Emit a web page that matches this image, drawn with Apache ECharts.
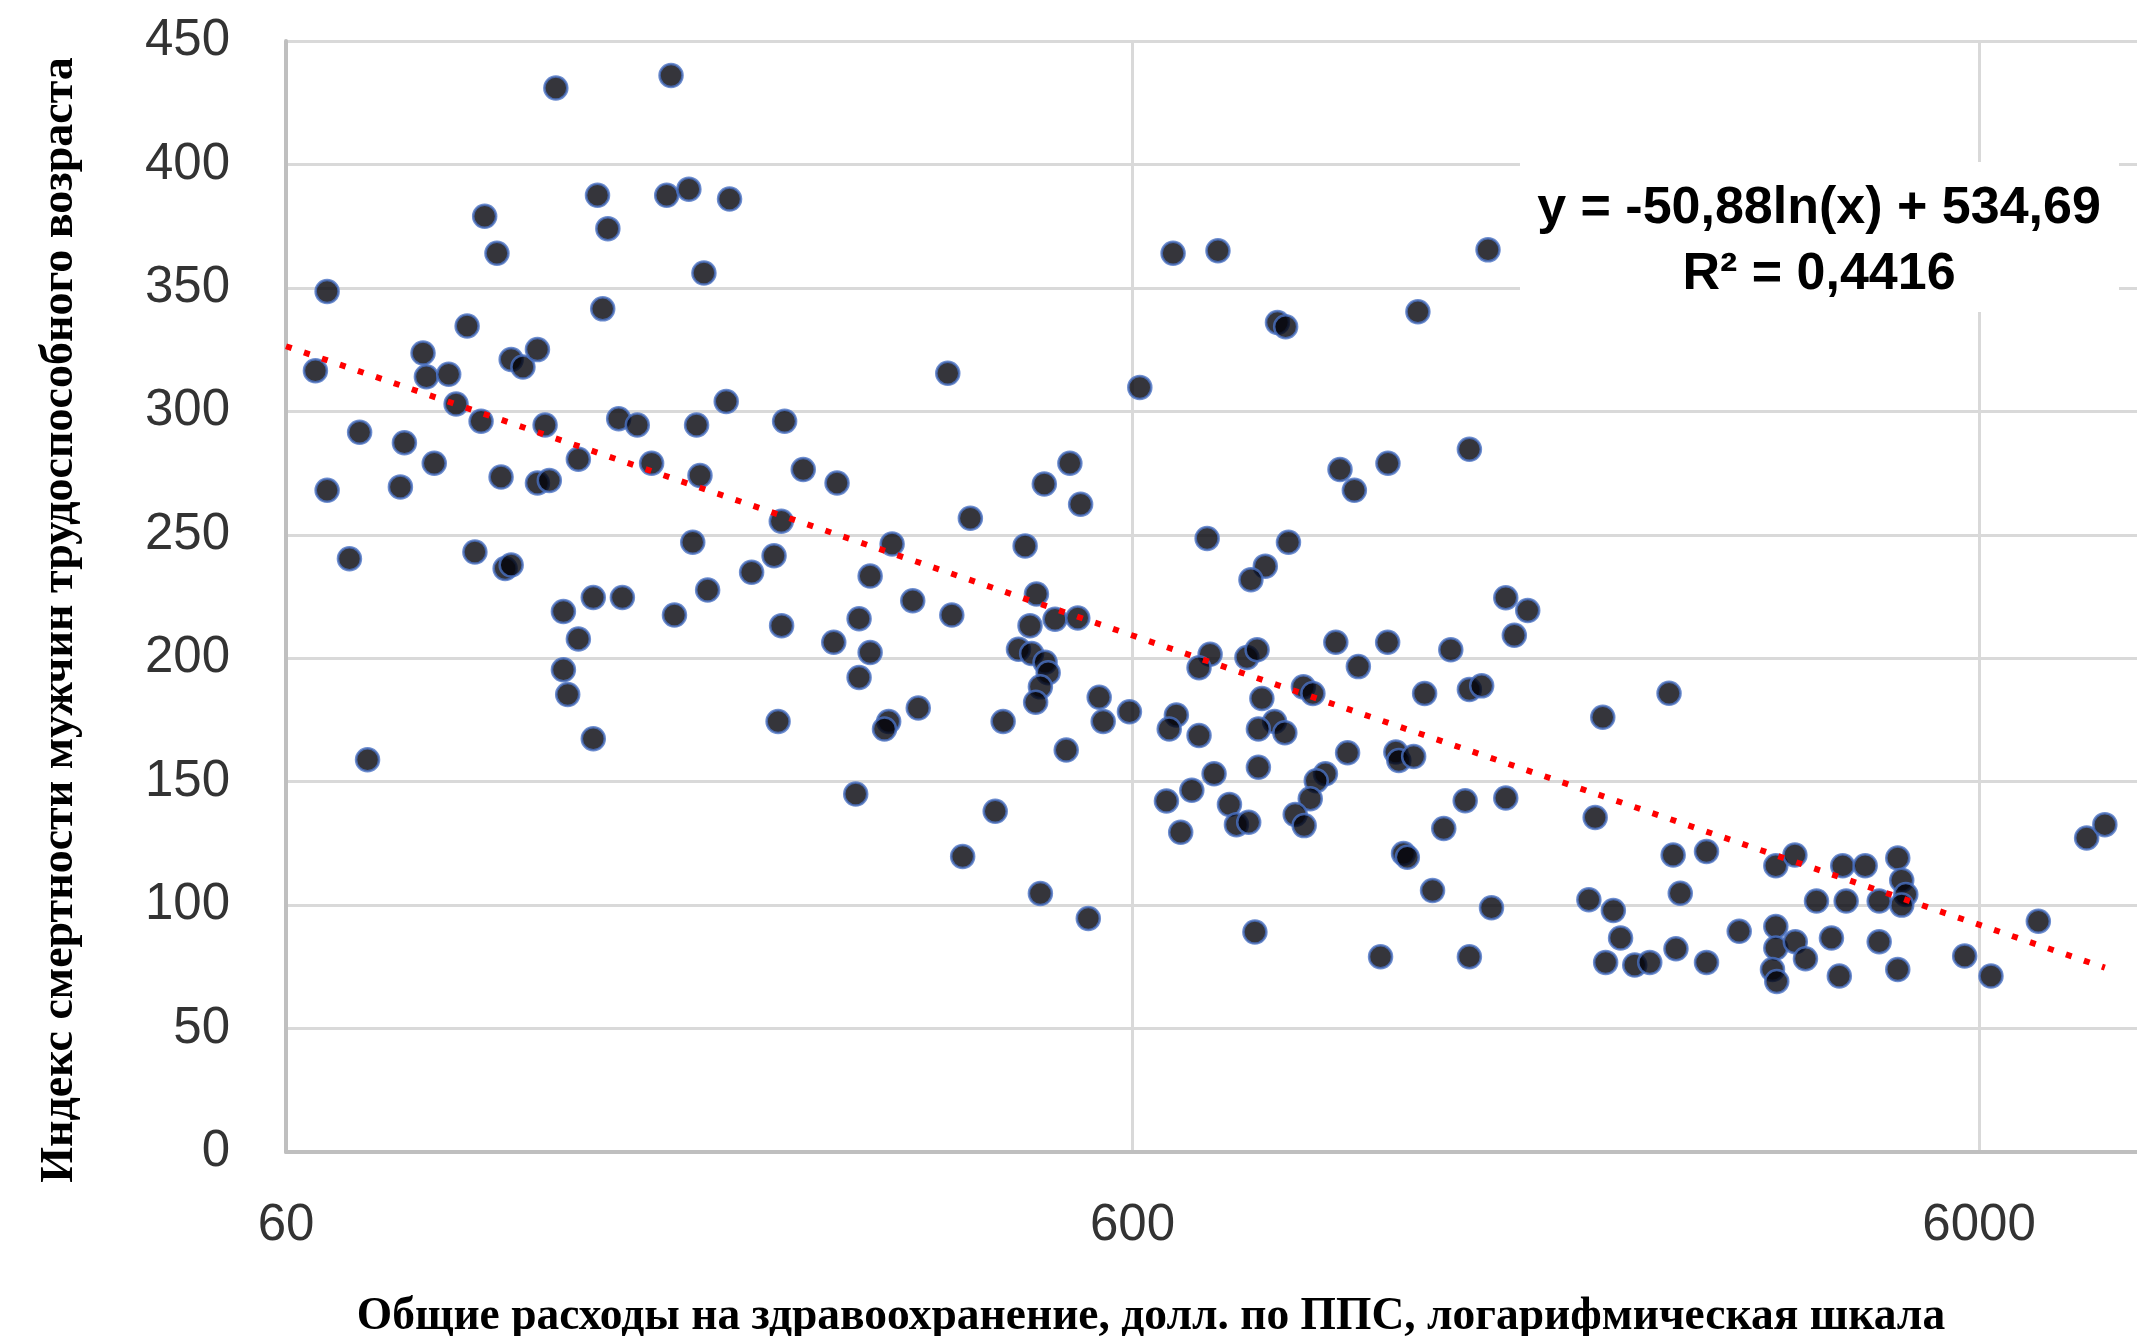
<!DOCTYPE html>
<html>
<head>
<meta charset="utf-8">
<title>Расходы на здравоохранение и смертность мужчин</title>
<script src="https://cdn.jsdelivr.net/npm/echarts@6/dist/echarts.min.js"></script>
<style>
  html, body { margin: 0; padding: 0; background: #fff; }
  #chartBox { width: 2137px; height: 1336px; }
</style>
</head>
<body>
<div id="chartBox"></div>
<script>
// расходы на здравоохранение, долл. по ППС (ось X, логарифмическая)
var spending = [
  125, 171, 103, 106.5, 140, 144, 169, 179.5, 200.5, 187,
  67.1, 142, 98.2, 87.1, 65, 87.9, 93.4, 110.7, 114.3, 118.9,
  95.3, 102, 121.4, 148.3, 156, 183.3, 198.7, 232.9, 73.3, 82.8,
  89.8, 67.1, 81.9, 107.7, 118.9, 122.8, 132.9, 162.2, 185, 245,
  268.6, 230.8, 312, 293.9, 226.3, 212.9, 181.4, 188.9, 71.3, 100.3,
  108.9, 110.7, 138.4, 149.8,
  127.6, 132.9, 172.6, 231, 285.2, 266.2, 293.9, 285.2, 127.6, 129.1,
  74.9, 138.4, 228.8, 309.1, 305.6, 282.6,
  670, 757, 1578, 890, 910, 1304, 363, 612, 506, 472,
  521, 386, 448, 1055, 1202, 1097, 1500, 735, 917, 861, 828,
  330, 367, 462, 454, 486, 517, 440, 456, 473, 477,
  467, 461, 335, 422, 548, 554, 595, 501, 413, 378,
  467, 532, 741, 719, 819, 842, 853, 955, 980, 676,
  663, 719, 883, 845, 908, 749, 845, 705, 658, 781,
  796, 823, 684, 1043, 1201, 1109, 1426, 1656, 1695, 1758,
  1328, 1500, 1551, 1077, 1228, 1238, 1289, 1014, 989, 973,
  934, 957, 1483, 1656, 1399, 1254, 1267, 1357, 1593, 837,
  1178, 1500,
  2582, 2156, 2112, 2611, 2859, 2662, 2076, 2219, 2263, 2173,
  2352, 2450, 2631, 2859, 3125, 3452, 3636, 3452, 3452, 3640,
  3742, 3421, 3461, 4141, 4402, 4810, 4862, 4916, 4862, 4573,
  4180, 3856, 4016, 4573, 4103, 4810, 7050, 5770, 6198, 8040, 8448
];
// индекс смертности мужчин трудоспособного возраста (ось Y)
var mortality = [
  431, 436, 379, 364, 387.5, 374, 387.5, 390, 386, 356,
  348.5, 341.5, 334.6, 323.6, 316.4, 314, 315, 321, 318, 325,
  303, 296, 294.5, 297, 294.5, 294.5, 304, 296, 291.5, 287.3,
  279, 268, 269.4, 273.4, 271, 272, 280.6, 279, 274, 276.4,
  271, 255.5, 246.3, 233.3, 241.5, 234.8, 247, 227.6, 240.3, 243,
  236.3, 237.8, 224.6, 224.6,
  218.9, 207.8, 217.5, 213.2, 216, 206.5, 202.3, 192.2, 195.3, 185.3,
  158.9, 167.4, 174.4, 174.4, 171.3, 145,
  364, 365, 365.4, 336, 334.3, 340.3, 315.4, 309.7, 279, 270.6,
  262.4, 256.7, 245.5, 276.4, 279, 268, 284.6, 248.5, 247, 237.3, 231.8,
  223.3, 217.5, 226, 213.2, 215.8, 216.3, 203.6, 201.9, 198.4, 194.1,
  188.4, 182.2, 179.8, 174.4, 184.2, 174.4, 178.3, 162.8, 138, 119.7,
  104.7, 94.6, 201.6, 196.1, 200.3, 203.4, 183.7, 188.4, 185.7, 177,
  171.3, 168.7, 174.4, 171.3, 169.8, 153.2, 155.8, 146.5, 142.2, 140.8,
  132.6, 133.6, 129.5, 206.5, 206.5, 196.6, 203.4, 224.5, 209.3, 219.3,
  185.7, 187.3, 188.8, 161.7, 162, 158.6, 160.2, 153.2, 150.4, 143.1,
  136.7, 132.2, 142.3, 143.4, 131, 120.9, 119.4, 105.9, 98.9, 89.1,
  79.1, 79.1,
  185.8, 176.1, 135.5, 120.3, 121.7, 104.8, 102.2, 97.8, 86.7, 76.8,
  75.7, 76.8, 82.3, 76.8, 89.4, 115.9, 120.3, 91.3, 82.6, 85.2,
  78.3, 73.9, 69.1, 115.9, 115.9, 119.1, 110.1, 104.3, 100, 101.7,
  101.7, 101.7, 86.7, 85.2, 71.3, 73.9, 93.5, 79.4, 71.3, 127.2, 132.6
];
// подписи делений оси X
var xTicks = [60, 600, 6000];
var yTicks = [0, 50, 100, 150, 200, 250, 300, 350, 400, 450];

// логарифмический тренд Excel: y = a*ln(x) + b
var trendA = -50.88;
var trendB = 534.69;
var trendText = ['y = -50,88ln(x) + 534,69', 'R² = 0,4416'];

var xBase = xTicks[0];
function toAxis(x) { return Math.log10(x / xBase); }   // ось X: десятичные порядки от 60

var points = spending.map(function (x, i) { return [toAxis(x), mortality[i]]; });
var trendFrom = xBase;
var trendTo = Math.max.apply(null, spending);
var trendLine = [trendFrom, trendTo].map(function (x) {
  return [toAxis(x), trendA * Math.log(x) + trendB];
});

var chart = echarts.init(document.getElementById('chartBox'));
var option = {
  animation: false,
  backgroundColor: '#fff',
  grid: { left: 286, top: 41, right: 0, bottom: 184 },
  xAxis: {
    type: 'value',
    min: 0,
    max: 2.1866,          // область построения обрезана краем картинки
    interval: 1,
    axisLine: { show: true, lineStyle: { color: '#bfbfbf', width: 4 } },
    axisTick: { show: false },
    axisLabel: {
      margin: 48,
      fontSize: 51,
      fontFamily: 'Liberation Sans',
      color: '#333',
      showMaxLabel: false,
      formatter: function (v) { return String(Math.round(xBase * Math.pow(10, v))); }
    },
    splitLine: { show: true, showMaxLine: false, lineStyle: { color: '#d9d9d9', width: 3 } }
  },
  yAxis: {
    type: 'value',
    min: yTicks[0],
    max: yTicks[yTicks.length - 1],
    interval: yTicks[1] - yTicks[0],
    axisLine: { show: true, lineStyle: { color: '#bfbfbf', width: 4 } },
    axisTick: { show: false },
    axisLabel: { margin: 56, fontSize: 51, fontFamily: 'Liberation Sans', color: '#333' },
    splitLine: { show: true, lineStyle: { color: '#d9d9d9', width: 3 } }
  },
  series: [
    {
      type: 'scatter',
      data: points,
      symbol: 'circle',
      symbolSize: 23,
      itemStyle: { color: '#02020a', borderColor: '#4a72c4', borderWidth: 2.5 },
      z: 2
    },
    {
      type: 'line',
      data: trendLine,
      showSymbol: false,
      symbol: 'none',
      silent: true,
      lineStyle: { color: '#ff0000', width: 6, type: [6, 13], cap: 'butt' },
      z: 3
    }
  ],
  graphic: [
    // подпись уравнения тренда на белой плашке
    { type: 'rect', shape: { x: 1520, y: 162, width: 599, height: 150 }, style: { fill: '#fff' }, z: 10 },
    {
      type: 'text', x: 1819, y: 209, z: 11,
      style: { text: trendText[0], font: 'bold 52px "Liberation Sans"', fill: '#000', textAlign: 'center', textVerticalAlign: 'middle' }
    },
    {
      type: 'text', x: 1819, y: 275, z: 11,
      style: { text: trendText[1], font: 'bold 52px "Liberation Sans"', fill: '#000', textAlign: 'center', textVerticalAlign: 'middle' }
    },
    // названия осей
    {
      type: 'text', x: 60, y: 620, rotation: Math.PI / 2, z: 11,
      style: { text: 'Индекс смертности мужчин трудоспособного возраста', font: 'bold 46px "Liberation Serif"', fill: '#000', textAlign: 'center', textVerticalAlign: 'middle' }
    },
    {
      type: 'text', x: 1151, y: 1317, z: 11,
      style: { text: 'Общие расходы на здравоохранение, долл. по ППС, логарифмическая шкала', font: 'bold 45.5px "Liberation Serif"', fill: '#000', textAlign: 'center', textVerticalAlign: 'middle' }
    }
  ]
};
chart.setOption(option);
</script>
</body>
</html>
